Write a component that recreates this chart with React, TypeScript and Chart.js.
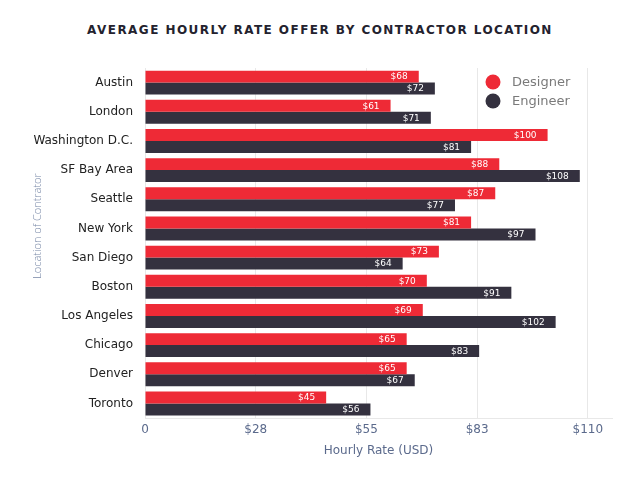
import React, { useEffect, useRef } from "react";
import { Chart, registerables } from "chart.js";

Chart.register(...registerables);

const categories = [
  "Austin",
  "London",
  "Washington D.C.",
  "SF Bay Area",
  "Seattle",
  "New York",
  "San Diego",
  "Boston",
  "Los Angeles",
  "Chicago",
  "Denver",
  "Toronto",
];
const designer = [68, 61, 100, 88, 87, 81, 73, 70, 69, 65, 65, 45];
const engineer = [72, 71, 81, 108, 77, 97, 64, 91, 102, 83, 67, 56];
const tickValues = [0, 27.5, 55, 82.5, 110];
const tickLabels = ["0", "$28", "$55", "$83", "$110"];
const seriesNames = ["Designer", "Engineer"];

const RED = "#ee2a36";
const DARK = "#34313f";

const overlayPlugin = {
  id: "overlay",
  afterDatasetsDraw(chart: any) {
    const ctx = chart.ctx;
    ctx.save();
    // value labels
    ctx.font = "9px 'DejaVu Sans'";
    ctx.fillStyle = "#ffffff";
    ctx.textAlign = "right";
    ctx.textBaseline = "middle";
    chart.data.datasets.forEach((ds: any, di: number) => {
      const meta = chart.getDatasetMeta(di);
      meta.data.forEach((bar: any, i: number) => {
        ctx.fillText("$" + ds.data[i], bar.x - 11, bar.y + 0.5);
      });
    });
    // legend
    const colors = [RED, DARK];
    const lx = 493;
    const ly = [82, 101];
    seriesNames.forEach((name, i) => {
      ctx.beginPath();
      ctx.fillStyle = colors[i];
      ctx.arc(lx, ly[i], 7.5, 0, Math.PI * 2);
      ctx.fill();
      ctx.fillStyle = "#7a7a7a";
      ctx.textAlign = "left";
      ctx.font = "13px 'DejaVu Sans'";
      ctx.fillText(name, 512, ly[i] + 0.5);
    });
    // axis titles
    ctx.fillStyle = "#5b6a8c";
    ctx.textAlign = "center";
    ctx.font = "12px 'DejaVu Sans'";
    const ca = chart.chartArea;
    ctx.fillText("Hourly Rate (USD)", (ca.left + ca.right) / 2, 451);
    ctx.save();
    ctx.translate(38, 226);
    ctx.rotate(-Math.PI / 2);
    ctx.fillStyle = "#7787a6";
    ctx.font = "300 11px 'Open Sans'";
    ctx.fillText("Location of Contrator", 0, 0);
    ctx.restore();
    ctx.restore();
  },
};

export default function App() {
  const ref = useRef<HTMLCanvasElement | null>(null);
  useEffect(() => {
    if (!ref.current) return;
    const chart = new Chart(ref.current, {
      type: "bar",
      data: {
        labels: categories,
        datasets: [
          { label: seriesNames[0], data: designer, backgroundColor: RED },
          { label: seriesNames[1], data: engineer, backgroundColor: DARK },
        ],
      },
      options: {
        indexAxis: "y",
        animation: false,
        responsive: false,
        maintainAspectRatio: false,
        layout: { padding: { top: 68, right: 28, left: 0, bottom: 0 } },
        datasets: {
          bar: { categoryPercentage: 0.82, barPercentage: 1 },
        },
        plugins: {
          legend: { display: false },
          title: { display: false },
          tooltip: { enabled: false },
        },
        scales: {
          x: {
            min: 0,
            max: 116,
            afterBuildTicks: (scale: any) => {
              scale.ticks = tickValues.map((v) => ({ value: v }));
            },
            afterFit: (scale: any) => {
              scale.height = 62;
            },
            ticks: {
              color: "#5b6a8c",
              font: { family: "'DejaVu Sans'", size: 12 },
              padding: 5,
              callback: (_v: any, i: number) => tickLabels[i],
            },
            grid: { color: "#e8e8e8", drawTicks: false, lineWidth: 1 },
            border: { color: "#e8e8e8" },
          },
          y: {
            afterFit: (scale: any) => {
              scale.width = 145;
            },
            ticks: {
              color: "#222222",
              font: { family: "'DejaVu Sans'", size: 12 },
              padding: 12,
            },
            grid: { display: false, drawTicks: false },
            border: { display: false },
          },
        },
      },
      plugins: [overlayPlugin],
    });
    return () => chart.destroy();
  }, []);
  return (
    <div
      style={{
        position: "fixed",
        left: 0,
        top: 0,
        width: 640,
        height: 480,
        background: "#ffffff",
      }}
    >
      <div
        style={{
          position: "absolute",
          left: 0,
          top: 22,
          width: 640,
          textAlign: "center",
          fontFamily: "'DejaVu Sans'",
          fontWeight: "bold",
          fontSize: 12,
          letterSpacing: 1.45,
          color: "#23222e",
          lineHeight: "16px",
        }}
      >
        AVERAGE HOURLY RATE OFFER BY CONTRACTOR LOCATION
      </div>
      <canvas
        ref={ref}
        width={640}
        height={480}
        style={{ position: "absolute", left: 0, top: 0, width: 640, height: 480 }}
      />
    </div>
  );
}
